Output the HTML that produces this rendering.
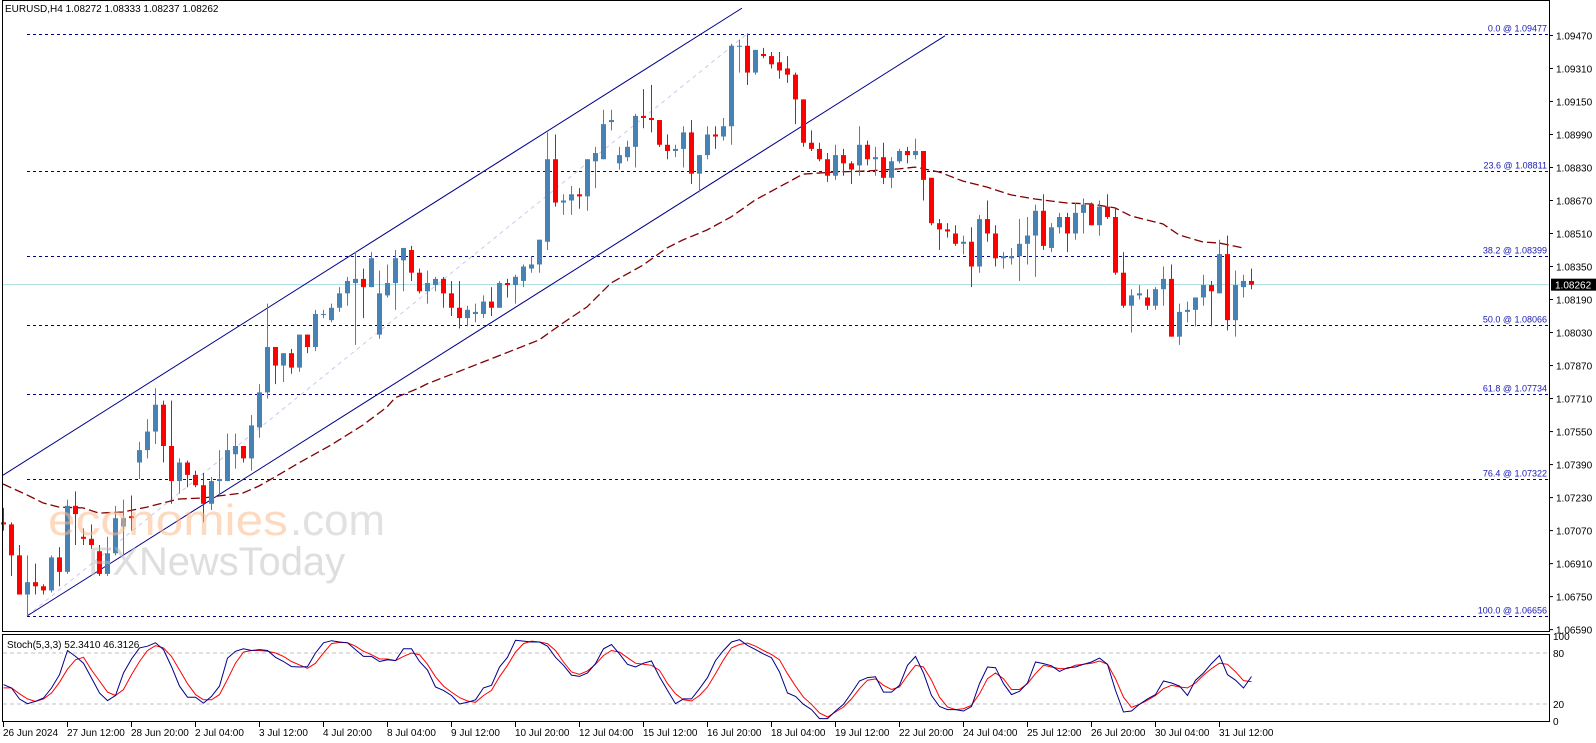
<!DOCTYPE html>
<html><head><meta charset="utf-8"><title>EURUSD H4</title>
<style>
html,body{margin:0;padding:0;background:#fff;}
svg{display:block;font-family:"Liberation Sans",sans-serif;}
</style></head>
<body>
<svg id="chart" width="1596" height="743" viewBox="0 0 1596 743" xmlns="http://www.w3.org/2000/svg">
  <rect x="0" y="0" width="1596" height="743" fill="#fff"/>
  <g id="grid"></g>
  <g id="fib"></g>
  <g id="channel"></g>
  <g id="ma"></g>
  <g id="candles"></g>
  <g id="watermark">
    <text x="48" y="535" font-size="44" textLength="240" lengthAdjust="spacingAndGlyphs" fill="#fbb98c" fill-opacity="0.55">economies</text>
    <text x="290" y="535" font-size="44" textLength="95" lengthAdjust="spacingAndGlyphs" fill="#c8c8c8" fill-opacity="0.55">.com</text>
    <text x="88" y="575" font-size="40" textLength="257" lengthAdjust="spacingAndGlyphs" fill="#bdbdbd" fill-opacity="0.5">FXNewsToday</text>
  </g>
  <g id="axes"></g>
  <g id="stoch"></g>
  <text x="5" y="12" font-size="10" fill="#000">EURUSD,H4  1.08272 1.08333 1.08237 1.08262</text>
  <text x="7" y="648" font-size="10" fill="#000">Stoch(5,3,3) 52.3410 46.3126</text>
</svg>
<script>
const opens=[1.0711,1.0710,1.0695,1.0676,1.0682,1.0680,1.0678,1.0694,1.0687,1.0719,
1.0704,1.0703,1.0697,1.0686,1.0696,1.0709,1.0714,1.0740,1.0746,1.0755,
1.0768,1.0748,1.0731,1.0740,1.0734,1.0729,1.0720,1.0731,1.0731,1.0744,
1.0748,1.0742,1.0757,1.0774,1.0796,1.0787,1.0793,1.0786,1.0802,1.0796,
1.0812,1.0809,1.0815,1.0822,1.0827,1.0829,1.0825,1.0802,1.0821,1.0827,
1.0838,1.0843,1.0832,1.0823,1.0826,1.0829,1.0822,1.0815,1.0810,1.0812,
1.0812,1.0818,1.0815,1.0827,1.0826,1.0828,1.0834,1.0836,1.0847,1.0887,
1.0866,1.0867,1.0870,1.0869,1.0886,1.0887,1.0905,1.0885,1.0888,1.0893,
1.0908,1.0907,1.0906,1.0894,1.0891,1.0892,1.0900,1.0880,1.0889,1.0899,
1.0898,1.0903,1.0942,1.0942,1.0929,1.0938,1.0937,1.0934,1.0931,1.0928,
1.0916,1.0895,1.0892,1.0887,1.0879,1.0889,1.0885,1.0884,1.0894,1.0887,
1.0888,1.0878,1.0886,1.0891,1.0889,1.0891,1.0878,1.0856,1.0853,1.0851,
1.0846,1.0847,1.0835,1.0858,1.0851,1.0839,1.0839,1.0840,1.0846,1.0850,
1.0862,1.0844,1.0854,1.0859,1.0851,1.0861,1.0865,1.0855,1.0864,1.0859,
1.0832,1.0816,1.0821,1.0820,1.0816,1.0824,1.0829,1.0801,1.0813,1.0814,
1.0820,1.0826,1.0822,1.0841,1.0809,1.0825,1.0828];
const highs=[1.0718,1.0711,1.0700,1.0695,1.0691,1.0681,1.0695,1.0699,1.0722,1.0726,
1.0708,1.0710,1.0700,1.0704,1.0719,1.0722,1.0724,1.0750,1.0761,1.0776,
1.0770,1.0770,1.0742,1.0741,1.0736,1.0735,1.0733,1.0746,1.0754,1.0754,
1.0748,1.0763,1.0778,1.0817,1.0796,1.0793,1.0795,1.0802,1.0802,1.0814,
1.0814,1.0817,1.0825,1.0830,1.0842,1.0834,1.0842,1.0833,1.0836,1.0843,
1.0844,1.0845,1.0834,1.0833,1.0830,1.0830,1.0828,1.0828,1.0816,1.0817,
1.0821,1.0825,1.0828,1.0829,1.0831,1.0836,1.0840,1.0848,1.0900,1.0899,
1.0870,1.0874,1.0873,1.0887,1.0893,1.0911,1.0911,1.0893,1.0896,1.0909,
1.0921,1.0923,1.0906,1.0899,1.0894,1.0903,1.0906,1.0889,1.0903,1.0903,
1.0907,1.0943,1.0945,1.0948,1.0940,1.0941,1.0939,1.0939,1.0937,1.0929,
1.0916,1.0901,1.0895,1.0890,1.0894,1.0892,1.0886,1.0903,1.0896,1.0893,
1.0895,1.0888,1.0892,1.0893,1.0897,1.0891,1.0878,1.0858,1.0856,1.0855,
1.0850,1.0854,1.0860,1.0867,1.0855,1.0842,1.0844,1.0858,1.0859,1.0865,
1.0870,1.0856,1.0861,1.0861,1.0866,1.0868,1.0866,1.0867,1.0870,1.0863,
1.0842,1.0824,1.0826,1.0824,1.0825,1.0835,1.0836,1.0817,1.0818,1.0820,
1.0831,1.0828,1.0848,1.0850,1.0833,1.0831,1.0834];
const lows=[1.0707,1.0685,1.0676,1.06656,1.0676,1.0676,1.0677,1.0680,1.0686,1.0700,
1.0700,1.0698,1.0685,1.0685,1.0695,1.0695,1.0707,1.0732,1.0742,1.0749,
1.0740,1.0720,1.0725,1.0728,1.0728,1.0711,1.0717,1.0724,1.0731,1.0737,
1.0740,1.0736,1.0752,1.0771,1.0778,1.0779,1.0783,1.0784,1.0793,1.0794,
1.0810,1.0808,1.0813,1.0816,1.0797,1.0810,1.0825,1.0800,1.0820,1.0814,
1.0823,1.0828,1.0822,1.0817,1.0823,1.0815,1.0811,1.0805,1.0806,1.0808,
1.0810,1.0811,1.0815,1.0820,1.0817,1.0825,1.0832,1.0832,1.0843,1.0864,
1.0860,1.0860,1.0863,1.0862,1.0873,1.0887,1.0901,1.0882,1.0886,1.0883,
1.0902,1.0900,1.0893,1.0887,1.0888,1.0883,1.0875,1.0871,1.0887,1.0892,
1.0896,1.0894,1.0929,1.0923,1.0928,1.0936,1.0931,1.0926,1.0924,1.0904,
1.0893,1.0891,1.0886,1.0876,1.0877,1.0879,1.0875,1.0879,1.0884,1.0879,
1.0875,1.0873,1.0885,1.0885,1.0887,1.0867,1.0855,1.0843,1.0849,1.0845,
1.0841,1.0825,1.0832,1.0847,1.0835,1.0834,1.0836,1.0828,1.0836,1.0830,
1.0843,1.0842,1.0851,1.0842,1.0848,1.0851,1.0855,1.0850,1.0858,1.0831,
1.0815,1.0803,1.0819,1.0814,1.0814,1.0816,1.0801,1.0797,1.0808,1.0806,
1.0816,1.0806,1.0822,1.0804,1.0801,1.0820,1.0824];
const closes=[1.0710,1.0695,1.0676,1.0682,1.0680,1.0678,1.0694,1.0687,1.0719,1.0715,
1.0703,1.0700,1.0686,1.0696,1.0713,1.0713,1.0713,1.0746,1.0755,1.0768,
1.0748,1.0731,1.0740,1.0734,1.0729,1.0720,1.0731,1.0732,1.0746,1.0748,
1.0742,1.0758,1.0774,1.0796,1.0787,1.0793,1.0786,1.0802,1.0796,1.0812,
1.0812,1.0815,1.0822,1.0828,1.0829,1.0825,1.0839,1.0822,1.0827,1.0839,
1.0844,1.0832,1.0823,1.0827,1.0829,1.0822,1.0815,1.0810,1.0814,1.0813,
1.0818,1.0815,1.0827,1.0826,1.0830,1.0835,1.0836,1.0848,1.0887,1.0866,
1.0867,1.0870,1.0869,1.0887,1.0890,1.0904,1.0906,1.0889,1.0893,1.0908,
1.0907,1.0906,1.0894,1.0891,1.0892,1.0900,1.0880,1.0889,1.0899,1.0898,
1.0903,1.0942,1.0942,1.0929,1.0940,1.0937,1.0933,1.0930,1.0928,1.0916,
1.0895,1.0892,1.0887,1.0879,1.0889,1.0885,1.0882,1.0894,1.0887,1.0888,
1.0878,1.0886,1.0891,1.0889,1.0891,1.0877,1.0856,1.0853,1.0852,1.0846,
1.0847,1.0835,1.0858,1.0851,1.0839,1.0840,1.0840,1.0846,1.0850,1.0862,
1.0845,1.0854,1.0859,1.0851,1.0861,1.0865,1.0855,1.0864,1.0859,1.0832,
1.0816,1.0821,1.0822,1.0816,1.0824,1.0829,1.0801,1.0813,1.0814,1.0820,
1.0826,1.0823,1.0841,1.0809,1.0826,1.0828,1.08262];
const maIndex=[0,3,5,7,10,12,15,18,20,22,25,27,30,32,34,37,41,45,48,49,52,53,60,67,70,73,76,80,83,85,88,91,94,97,100,104,108,112,114,117,120,123,126,129,133,136,139,141,145,147,150,152,155];
const maValues=[1.07296,1.07243,1.07204,1.07184,1.07180,1.07155,1.07160,1.07184,1.07204,1.07223,1.07228,1.07238,1.07252,1.07286,1.07330,1.07398,1.07485,1.07582,1.07669,1.07713,1.07761,1.07781,1.07887,1.07994,1.08076,1.08154,1.08270,1.08357,1.08440,1.08479,1.08527,1.08590,1.08672,1.08735,1.08798,1.08808,1.08813,1.08823,1.08832,1.08808,1.08764,1.08735,1.08697,1.08677,1.08658,1.08653,1.08634,1.08595,1.08556,1.08503,1.08469,1.08464,1.08440];
const stochK=[42.8,38.8,25.9,20.4,23.2,27.1,38.8,54.5,83,76,68,50.6,33,24,30,56.5,73,86,88,92,84,64,41,28,28,21,29,41,74,82,85,83,84,83,75,70,64,63.5,64,80,92,94.5,93,92,84,76,76,70,72,71,85,85,70,
60,40,36,30,20,22,25,39,42,63.5,75,95,94,93,93,88,75,65.5,54,52.5,56.5,67.5,85,90,79,66.7,63.5,68,70.6,52,36,20.4,26,26,38,51,71,83,93,95.7,89,84,79,74.5,57.6,33,29,19.6,13.4,2.8,2.8,
11.8,19.6,33,47,51,52,34,34,42,65.5,76,56.5,30,17,13.4,13.4,11.8,17,44,63.5,62.7,44,31,35,44.7,69.4,67.5,65,58.4,62.7,63.5,66.7,69.4,74,66.7,36,10.6,11.8,19.6,26,31,47,44.7,41,30,48,56.5,67.5,77,54.5,48,38.8,52.3];
const stochD=[39,39,32,26,23,26,33,45.5,61,72,75,60,47,34,30,37,54.5,70,83,88.6,86,76,60,44,31,25,25,31,49,68,81,83,83,82,80,76,70,66,62,68,80,91,92.5,92,88,82,78,73,73,71,76,80,78,
66.7,52,41,34,27.5,23.5,22,30,36,52,65.5,81,91,94,93,91,83,69.4,57.6,55,59,66.7,77,83,81,74.5,68,66.7,65.5,59.6,44,32,25,23.5,30,40,55.7,72,86,90,91.8,88,83,78.4,72,55.7,41,28,19.6,9.4,4.7,
10.6,16.5,26,38,48,49.5,42,37,40,53.7,65.5,63.5,48,28,16.5,13.4,14.5,18.5,32,49.8,56.5,49.8,37,37,44,55.7,65.5,63.5,61.6,61.6,65.5,66.7,68,70.6,66.7,49.8,28,16,19.6,24.5,30,38,42,40,39,44.7,54,61.6,68,66.7,58,47.5,46.3];
const priceTicks=[1.09470,1.09310,1.09150,1.08990,1.08830,1.08670,1.08510,1.08350,1.08190,1.08030,1.07870,1.07710,1.07550,1.07390,1.07230,1.07070,1.06910,1.06750,1.06590];
const fibRatios=["0.0","23.6","38.2","50.0","61.8","76.4","100.0"];
const fibPrices=[1.09477,1.08811,1.08399,1.08066,1.07734,1.07322,1.06656];
const timeLabels=["26 Jun 2024","27 Jun 12:00","28 Jun 20:00","2 Jul 04:00","3 Jul 12:00","4 Jul 20:00","8 Jul 04:00","9 Jul 12:00","10 Jul 20:00","12 Jul 04:00","15 Jul 12:00","16 Jul 20:00","18 Jul 04:00","19 Jul 12:00","22 Jul 20:00","24 Jul 04:00","25 Jul 12:00","26 Jul 20:00","30 Jul 04:00","31 Jul 12:00"];
const timeLabelIndex=[0,8,16,24,32,40,48,56,64,72,80,88,96,104,112,120,128,136,144,152];
const stochLevels=[100,80,20,0];
const currentPrice=1.08262;

const NS="http://www.w3.org/2000/svg";
const PLOT_R=1549;
function xOf(i){return 3+8*i;}
function yOf(p){return 34+(1.09477-p)*20631;}
function ySt(v){return 636+(100-v)*0.85;}
function mk(tag,attrs,parent){const e=document.createElementNS(NS,tag);for(const k in attrs)e.setAttribute(k,attrs[k]);parent.appendChild(e);return e;}
const g=id=>document.getElementById(id);

// frames
const ax=g('axes');
let el=mk('rect',{x:2.5,y:0.5,width:PLOT_R-2,height:631,fill:'none',stroke:'#000','stroke-width':1},ax);


el=mk('rect',{x:2.5,y:634.5,width:PLOT_R-2,height:87,fill:'none',stroke:'#000','stroke-width':1},ax);



// current price line
el=mk('line',{x1:3,x2:PLOT_R,y1:yOf(currentPrice),y2:yOf(currentPrice),stroke:'#a8dde2','stroke-width':1},g('grid'));



// price ticks
priceTicks.forEach(p=>{
  const y=yOf(p);
  let t=mk('line',{x1:PLOT_R,x2:PLOT_R+4,y1:y,y2:y,stroke:'#000'},ax);
  
  
  let tx=mk('text',{x:1556,y:y+4,'font-size':10,fill:'#000'},ax);
  tx.textContent=p.toFixed(5);
  
  
});
el=mk('rect',{x:1551,y:yOf(currentPrice)-6,width:45,height:12,fill:'#000'},ax);


el=mk('text',{x:1555,y:yOf(currentPrice)+4,'font-size':10,fill:'#fff'},ax);
el.textContent=currentPrice.toFixed(5);



// fib
const fg=g('fib');
fibPrices.forEach((p,k)=>{
  const y=Math.round(yOf(p))+0.5;
  let l=mk('line',{x1:xOf(3),x2:PLOT_R-1,y1:y,y2:y,stroke:'#00008b','stroke-width':1,'stroke-dasharray':'3,3'},fg);
  
  
  let t=mk('text',{x:PLOT_R-2,y:y-3,'font-size':9,fill:'#1a1ab4','text-anchor':'end'},fg);
  t.textContent=fibRatios[k]+' @ '+p.toFixed(5);
  
  
});
el=mk('line',{x1:xOf(3),y1:yOf(fibPrices[6]),x2:xOf(93),y2:yOf(fibPrices[0]),stroke:'#c9c9ee','stroke-width':1,'stroke-dasharray':'4,4'},fg);



// channel
const cg=g('channel');
const slope=-0.632;
const lx0=xOf(3), ly0=yOf(fibPrices[6]);
el=mk('line',{x1:lx0,y1:ly0,x2:945,y2:ly0+slope*(945-lx0),stroke:'#00008b','stroke-width':1},cg);


const off=-156;
el=mk('line',{x1:3,y1:ly0+off+slope*(3-lx0),x2:742,y2:ly0+off+slope*(742-lx0),stroke:'#00008b','stroke-width':1},cg);



// MA
let d='';
maIndex.forEach((i,k)=>{d+=(k?'L':'M')+xOf(i)+','+yOf(maValues[k]).toFixed(1);});
el=mk('path',{d:d,fill:'none',stroke:'#800000','stroke-width':1.3,'stroke-dasharray':'9,4'},g('ma'));



// candles
const cgp=g('candles');
closes.forEach((c,i)=>{
  const o=opens[i],h=highs[i],l=lows[i];
  const bull=c>=o, col=bull?'#4682b4':'#ff0000';
  const x=xOf(i);
  const grp=mk('g',{},cgp);
  
  
  const w=mk('line',{x1:x+0.5,x2:x+0.5,y1:yOf(h),y2:yOf(l),stroke:col,'stroke-width':1},grp);
  
  
  const yt=yOf(Math.max(o,c)), yb=yOf(Math.min(o,c));
  const b=mk('rect',{x:x-2,y:yt,width:5,height:Math.max(1,yb-yt),fill:col},grp);
  
  
});

// stochastic
const sg=g('stoch');
[80,20].forEach(v=>{
  let l=mk('line',{x1:3,x2:PLOT_R,y1:ySt(v),y2:ySt(v),stroke:'#c0c0c0','stroke-dasharray':'4,3'},sg);
  
  
});
stochLevels.forEach(v=>{
  let t=mk('text',{x:1553,y:ySt(v)+4,'font-size':10,fill:'#000'},sg);
  t.textContent=String(v);
  
  
});
function linePath(arr){let s='';arr.forEach((v,i)=>{s+=(i?'L':'M')+(xOf(i)+0.5)+','+ySt(v).toFixed(1);});return s;}
el=mk('path',{d:linePath(stochD),fill:'none',stroke:'#ff0000','stroke-width':1},sg);


el=mk('path',{d:linePath(stochK),fill:'none',stroke:'#00008b','stroke-width':1},sg);



// time axis
timeLabels.forEach((s,k)=>{
  const x=xOf(timeLabelIndex[k]);
  let t=mk('line',{x1:x+0.5,x2:x+0.5,y1:722,y2:727,stroke:'#000'},ax);
  
  
  let tx=mk('text',{x:x,y:736,'font-size':10,fill:'#000'},ax);
  tx.textContent=s;
  
  
});
</script>
</body></html>
